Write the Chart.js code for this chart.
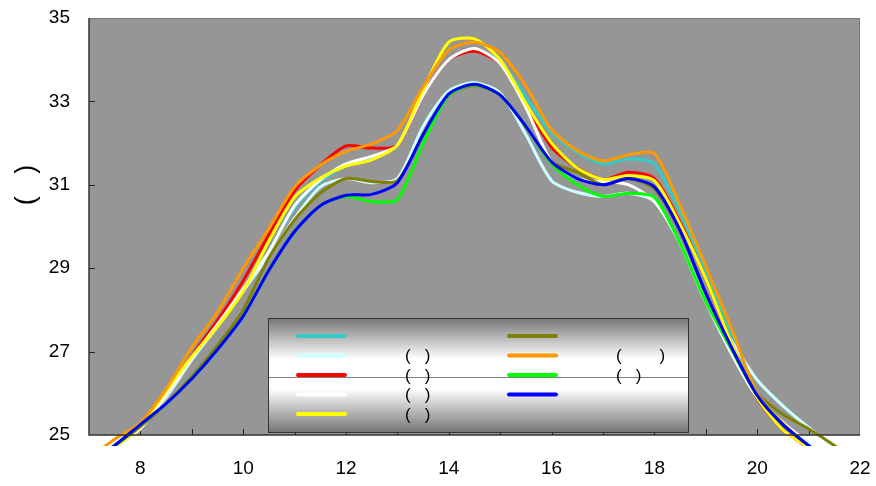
<!DOCTYPE html>
<html><head><meta charset="utf-8">
<script src="https://cdn.jsdelivr.net/npm/chart.js@4.4.1/dist/chart.umd.min.js"></script>
<style>html,body{margin:0;padding:0;background:#fff;}#wrap{width:876px;height:486px;}</style>
</head><body><div id="wrap"><canvas id="c" width="876" height="486" style="width:876px;height:486px"></canvas></div>
<script>
const hours = [7,7.5,8,8.5,9,9.5,10,10.5,11,11.5,12,12.5,13,13.5,14,14.5,15,15.5,16,16.5,17,17.5,18,18.5,19,19.5,20,20.5,21,21.5,22];
const tealVals   = [24.3,24.7,25.15,25.95,26.85,27.6,28.45,29.4,30.45,31.08,31.45,31.65,31.95,33.15,34.0,34.22,33.95,33.1,32.25,31.78,31.5,31.62,31.5,30.35,28.9,27.4,26.0,25.3,24.8,24.35,23.9];
const lcyanVals  = [24.3,24.7,25.15,25.9,26.8,27.6,28.45,29.3,30.2,30.95,31.15,31.05,31.15,32.4,33.25,33.45,33.2,32.2,31.1,30.82,30.72,30.8,30.6,29.6,28.2,27.25,26.32,25.7,25.18,24.7,24.2];
const redVals    = [24.3,24.75,25.15,25.95,26.9,27.75,28.7,29.8,30.85,31.47,31.93,31.88,31.95,33.15,34.0,34.2,33.9,32.9,31.9,31.4,31.13,31.3,31.15,30.1,28.75,27.2,25.88,25.12,24.7,24.3,23.9];
const whiteVals  = [24.3,24.7,25.15,25.95,26.85,27.65,28.5,29.4,30.5,31.12,31.5,31.68,31.95,33.15,34.0,34.27,33.9,32.85,31.55,31.15,31.08,31.0,30.6,29.6,28.2,26.95,25.9,25.3,24.8,24.35,23.9];
const yellowVals = [24.25,24.7,25.2,26.05,26.88,27.6,28.45,29.65,30.7,31.16,31.45,31.6,31.95,33.27,34.42,34.5,34.0,32.95,32.0,31.4,31.13,31.22,31.1,30.05,28.75,27.2,25.9,25.12,24.7,24.3,23.9];
const oliveVals  = [24.3,24.75,25.2,25.75,26.4,27.15,28.0,29.25,30.16,30.8,31.15,31.08,31.1,32.2,33.15,33.38,33.15,32.4,31.55,31.3,31.0,31.15,30.9,29.9,28.4,27.1,26.0,25.5,25.15,24.75,24.3];
const orangeVals = [24.45,24.9,25.3,26.1,27.1,27.95,29.0,29.95,30.95,31.47,31.8,31.98,32.3,33.35,34.23,34.42,34.17,33.37,32.32,31.82,31.57,31.72,31.75,30.5,29.05,27.55,26.0,25.28,24.75,24.3,23.9];
const greenVals  = [24.3,24.75,25.25,25.75,26.35,27.05,27.85,28.95,29.88,30.5,30.72,30.6,30.65,32.0,33.15,33.4,33.15,32.4,31.5,31.0,30.72,30.8,30.7,29.6,28.2,27.05,25.95,25.25,24.75,24.3,23.9];
const blueVals   = [24.3,24.75,25.25,25.75,26.35,27.05,27.85,28.95,29.88,30.5,30.75,30.77,31.05,32.2,33.18,33.41,33.15,32.4,31.55,31.15,31.0,31.15,30.95,29.9,28.4,27.1,25.95,25.25,24.75,24.3,23.9];

const seriesLabels = ["", "(   )", "(   )", "(   )", "(   )", "", "(        )", "(   )", ""];
const seriesColors = ["#33CCCC", "#CCFFFF", "#FF0000", "#FFFFFF", "#FFFF00", "#808000", "#FF9900", "#00FF00", "#0000FF"];
const seriesValues = [tealVals, lcyanVals, redVals, whiteVals, yellowVals, oliveVals, orangeVals, greenVals, blueVals];
const xTickLabels = [8,10,12,14,16,18,20,22];
const yTicks = [25,27,29,31,33,35];
const yTitle = "(   )";

const FONT = "'Liberation Sans', Arial, sans-serif";
const FS = 19;

const datasets = seriesValues.map((vals, i) => ({
  label: seriesLabels[i],
  data: vals.map((v, k) => ({x: hours[k], y: v})),
  borderColor: seriesColors[i],
  backgroundColor: seriesColors[i],
  borderWidth: 3,
  pointRadius: 0,
  tension: 0.25,
  fill: false,
  clip: {left: 0, top: 0, right: 0, bottom: 11},
  order: seriesValues.length - i
}));

const decor = {
  id: 'decor',
  beforeDraw(chart) {
    const {ctx, chartArea: a} = chart;
    ctx.save();
    ctx.fillStyle = '#ffffff';
    ctx.fillRect(0, 0, chart.width, chart.height);
    ctx.fillStyle = '#969696';
    ctx.fillRect(a.left, a.top, a.right - a.left, a.bottom - a.top);
    ctx.restore();
  },
  beforeDatasetsDraw(chart) {
    const {ctx, chartArea: a, scales} = chart;
    ctx.save();
    ctx.strokeStyle = '#7a7a7a';
    ctx.lineWidth = 1;
    ctx.beginPath();
    ctx.moveTo(a.left, a.top + 0.5); ctx.lineTo(a.right, a.top + 0.5);
    ctx.moveTo(a.right - 0.5, a.top); ctx.lineTo(a.right - 0.5, a.bottom);
    ctx.stroke();
    ctx.strokeStyle = '#222';
    ctx.lineWidth = 1;
    ctx.beginPath();
    for (let v = 8; v <= 21; v++) {
      const px = Math.round(scales.x.getPixelForValue(v)) + 0.5;
      ctx.moveTo(px, a.bottom); ctx.lineTo(px, a.bottom - 6);
    }
    for (const v of yTicks) {
      if (v === 25 || v === 35) continue;
      const py = Math.round(scales.y.getPixelForValue(v)) + 0.5;
      ctx.moveTo(a.left, py); ctx.lineTo(a.left + 6, py);
    }
    ctx.stroke();
    ctx.restore();
  },
  afterDatasetsDraw(chart) {
    const {ctx, chartArea: a} = chart;
    ctx.save();
    ctx.strokeStyle = '#333';
    ctx.lineWidth = 1.5;
    ctx.beginPath();
    ctx.moveTo(a.left, a.top); ctx.lineTo(a.left, a.bottom); ctx.lineTo(a.right, a.bottom);
    ctx.stroke();
    const lx = 268, ly = 318, lw = 420, lh = 114;
    const g = ctx.createLinearGradient(0, ly, 0, ly + lh);
    g.addColorStop(0, '#767676');
    g.addColorStop(0.36, '#ffffff');
    g.addColorStop(0.62, '#ffffff');
    g.addColorStop(1, '#767676');
    ctx.fillStyle = g;
    ctx.fillRect(lx, ly, lw, lh);
    ctx.strokeStyle = '#808080';
    ctx.lineWidth = 1;
    ctx.beginPath();
    ctx.moveTo(lx, 377.5); ctx.lineTo(lx + lw, 377.5);
    ctx.stroke();
    ctx.strokeStyle = '#333';
    ctx.lineWidth = 1;
    ctx.strokeRect(lx + 0.5, ly + 0.5, lw, lh);
    const rows = [336, 355.5, 375, 394.5, 414];
    ctx.font = '17px ' + FONT;
    ctx.textBaseline = 'middle';
    ctx.textAlign = 'left';
    ctx.lineCap = 'round';
    seriesLabels.forEach((lab, i) => {
      const col = i < 5 ? 0 : 1;
      const row = i < 5 ? i : i - 5;
      const x0 = col === 0 ? 298 : 509;
      const tx = col === 0 ? 405 : 616;
      const y = rows[row];
      ctx.strokeStyle = seriesColors[i];
      ctx.lineWidth = 4;
      ctx.beginPath();
      ctx.moveTo(x0, y); ctx.lineTo(x0 + 47, y);
      ctx.stroke();
      ctx.fillStyle = '#000';
      ctx.fillText(lab, tx, y + 1);
    });
    ctx.translate(27, 185);
    ctx.rotate(-Math.PI / 2);
    ctx.textAlign = 'center';
    ctx.textBaseline = 'middle';
    ctx.font = '27px ' + FONT;
    ctx.fillStyle = '#000';
    ctx.fillText(yTitle, 0, 0);
    ctx.restore();
  }
};

new Chart(document.getElementById('c'), {
  type: 'line',
  data: { datasets },
  options: {
    responsive: false,
    animation: false,
    layout: { padding: { top: 18, right: 16, left: 0, bottom: 0 } },
    plugins: { legend: { display: false }, tooltip: { enabled: false } },
    scales: {
      x: {
        type: 'linear', min: 7, max: 22,
        ticks: {
          stepSize: 1, autoSkip: false, maxRotation: 0, padding: 22,
          color: '#000', font: { size: FS, family: FONT },
          callback: v => xTickLabels.includes(v) ? String(v) : ''
        },
        grid: { display: false, drawTicks: false },
        border: { display: false },
        afterFit: s => { s.height = 51; s.paddingLeft = 0; s.paddingRight = 0; s.paddingTop = 0; s.paddingBottom = 0; }
      },
      y: {
        min: 25, max: 35,
        ticks: {
          stepSize: 2, padding: 19, color: '#000', font: { size: FS, family: FONT },
          callback: v => yTicks.includes(v) ? String(v) : ''
        },
        grid: { display: false, drawTicks: false },
        border: { display: false },
        afterFit: s => { s.width = 89; s.paddingLeft = 0; s.paddingRight = 0; s.paddingTop = 0; s.paddingBottom = 0; }
      }
    }
  },
  plugins: [decor]
});
</script>
</body></html>
